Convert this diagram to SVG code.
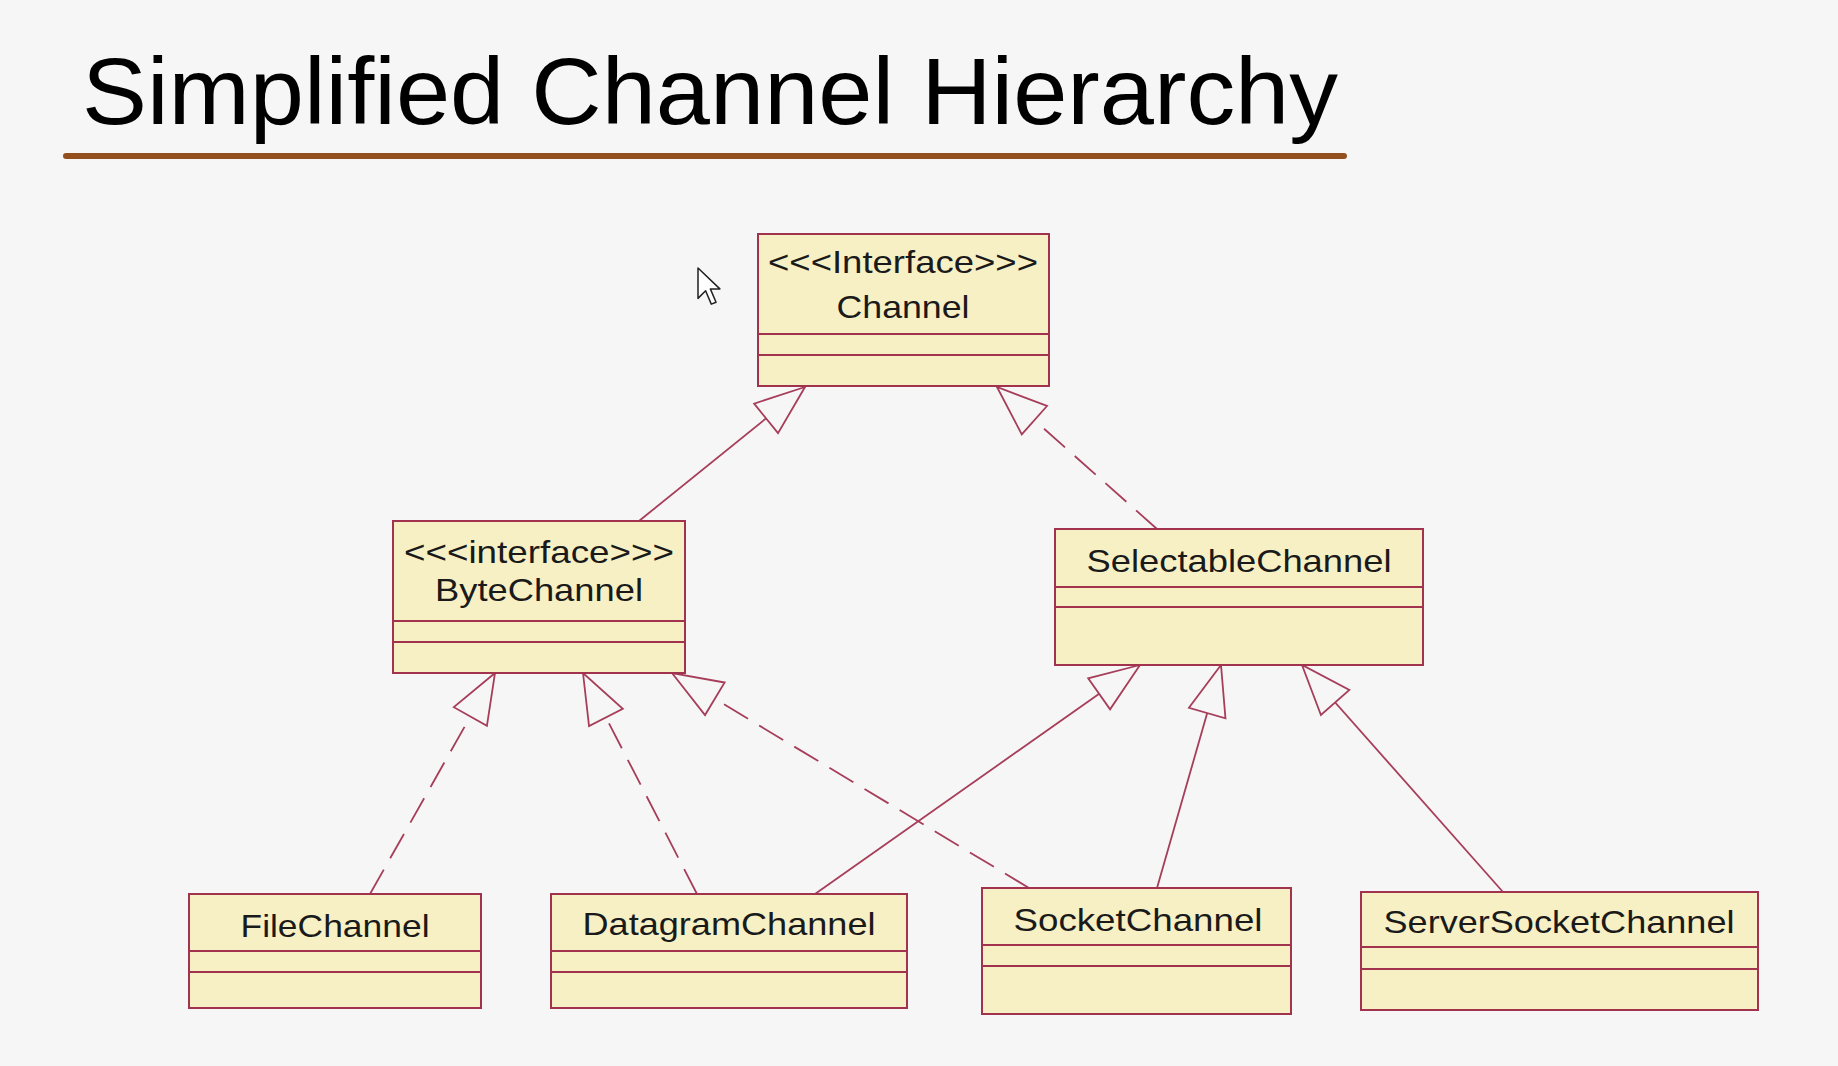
<svg xmlns="http://www.w3.org/2000/svg" width="1838" height="1066" viewBox="0 0 1838 1066">
  <style>
    .box { fill: #f7f0c4; stroke: #a2334f; stroke-width: 2; }
    .sep { stroke: #a2334f; stroke-width: 2; }
    .lbl { font-family: "Liberation Sans", Arial, sans-serif; font-size: 32px; fill: #1a1a1a; text-anchor: middle; }
    .edge { fill: none; stroke: #a63e5a; stroke-width: 1.8; }
    .dash { stroke-dasharray: 28 13; }
  </style>
  <defs>
    <!-- hollow generalization / realization triangle -->
    <marker id="tri" markerUnits="userSpaceOnUse" viewBox="-52 -22 54 44" refX="0" refY="0" markerWidth="54" markerHeight="44" orient="auto">
      <path d="M0,0 L-50,-19 L-50,19 Z" fill="#f6f6f6" stroke="#a63e5a" stroke-width="1.8" stroke-linejoin="miter"/>
    </marker>
  </defs>

  <rect width="1838" height="1066" fill="#f6f6f6"/>

  <!-- title -->
  <g id="title">
    <text x="82" y="124" font-family="Liberation Sans, Arial, sans-serif" font-size="95" fill="#000" textLength="1256" lengthAdjust="spacingAndGlyphs">Simplified Channel Hierarchy</text>
    <line x1="66" y1="156" x2="1344" y2="156" stroke="#93501e" stroke-width="6" stroke-linecap="round"/>
  </g>

  <!-- connectors -->
  <g id="connectors">
    <line class="edge" x1="639" y1="521" x2="805" y2="387" marker-end="url(#tri)"/>
    <line class="edge dash" x1="1157" y1="529" x2="997" y2="387" marker-end="url(#tri)"/>
    <line class="edge dash" x1="370" y1="894" x2="495" y2="673" marker-end="url(#tri)"/>
    <line class="edge dash" x1="697" y1="894" x2="583" y2="673" marker-end="url(#tri)"/>
    <line class="edge dash" x1="1029" y1="888" x2="672" y2="673" marker-end="url(#tri)"/>
    <line class="edge" x1="815" y1="894" x2="1140" y2="665" marker-end="url(#tri)"/>
    <line class="edge" x1="1157" y1="888" x2="1221" y2="665" marker-end="url(#tri)"/>
    <line class="edge" x1="1503" y1="892" x2="1302" y2="665" marker-end="url(#tri)"/>
  </g>

  <!-- class nodes -->
  <g id="Channel">
    <rect class="box" x="758" y="234" width="291" height="152"/>
    <line class="sep" x1="758" y1="334" x2="1049" y2="334"/>
    <line class="sep" x1="758" y1="355" x2="1049" y2="355"/>
    <text class="lbl" x="903" y="273" textLength="270" lengthAdjust="spacingAndGlyphs">&lt;&lt;&lt;Interface&gt;&gt;&gt;</text>
    <text class="lbl" x="903" y="318" textLength="133" lengthAdjust="spacingAndGlyphs">Channel</text>
  </g>

  <g id="ByteChannel">
    <rect class="box" x="393" y="521" width="292" height="152"/>
    <line class="sep" x1="393" y1="621" x2="685" y2="621"/>
    <line class="sep" x1="393" y1="642" x2="685" y2="642"/>
    <text class="lbl" x="539" y="563" textLength="270" lengthAdjust="spacingAndGlyphs">&lt;&lt;&lt;interface&gt;&gt;&gt;</text>
    <text class="lbl" x="539" y="601" textLength="208" lengthAdjust="spacingAndGlyphs">ByteChannel</text>
  </g>

  <g id="SelectableChannel">
    <rect class="box" x="1055" y="529" width="368" height="136"/>
    <line class="sep" x1="1055" y1="587" x2="1423" y2="587"/>
    <line class="sep" x1="1055" y1="607" x2="1423" y2="607"/>
    <text class="lbl" x="1239" y="572" textLength="305" lengthAdjust="spacingAndGlyphs">SelectableChannel</text>
  </g>

  <g id="FileChannel">
    <rect class="box" x="189" y="894" width="292" height="114"/>
    <line class="sep" x1="189" y1="951" x2="481" y2="951"/>
    <line class="sep" x1="189" y1="972" x2="481" y2="972"/>
    <text class="lbl" x="335" y="937" textLength="189" lengthAdjust="spacingAndGlyphs">FileChannel</text>
  </g>

  <g id="DatagramChannel">
    <rect class="box" x="551" y="894" width="356" height="114"/>
    <line class="sep" x1="551" y1="951" x2="907" y2="951"/>
    <line class="sep" x1="551" y1="972" x2="907" y2="972"/>
    <text class="lbl" x="729" y="935" textLength="293" lengthAdjust="spacingAndGlyphs">DatagramChannel</text>
  </g>

  <g id="SocketChannel">
    <rect class="box" x="982" y="888" width="309" height="126"/>
    <line class="sep" x1="982" y1="945" x2="1291" y2="945"/>
    <line class="sep" x1="982" y1="966" x2="1291" y2="966"/>
    <text class="lbl" x="1138" y="931" textLength="249" lengthAdjust="spacingAndGlyphs">SocketChannel</text>
  </g>

  <g id="ServerSocketChannel">
    <rect class="box" x="1361" y="892" width="397" height="118"/>
    <line class="sep" x1="1361" y1="947" x2="1758" y2="947"/>
    <line class="sep" x1="1361" y1="969" x2="1758" y2="969"/>
    <text class="lbl" x="1559" y="933" textLength="351" lengthAdjust="spacingAndGlyphs">ServerSocketChannel</text>
  </g>

  <!-- mouse pointer -->
  <g id="pointer" transform="translate(698,268) scale(1.9)">
    <path d="M0,0 L0,16 L4,12 L7,19 L9.5,18 L6.5,11 L11.5,11 Z" fill="#ffffff" stroke="#222" stroke-width="0.8" stroke-linejoin="round"/>
  </g>
</svg>
